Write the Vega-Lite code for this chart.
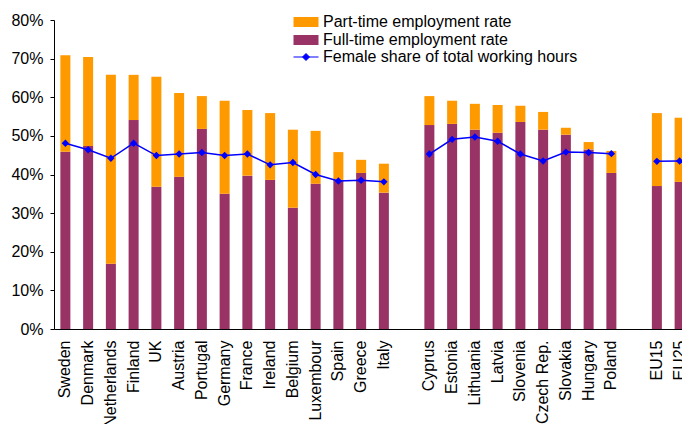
{
  "$schema": "https://vega.github.io/schema/vega-lite/v6.json",
  "width": 628,
  "height": 309,
  "autosize": {"type": "none"},
  "padding": {"left": 54, "top": 20, "right": 0, "bottom": 95},
  "background": "white",
  "config": {
    "view": {"stroke": null},
    "font": "Liberation Sans",
    "axis": {"labelFont": "Liberation Sans", "labelFontSize": 16, "labelColor": "#000000", "domainColor": "#000000", "tickColor": "#000000", "grid": false, "title": null},
    "axisY": {"values": [0, 10, 20, 30, 40, 50, 60, 70, 80], "labelExpr": "datum.value + '%'", "tickSize": 4, "labelPadding": 7, "domainWidth": 1, "labelOverlap": false},
    "legend": {"labelFont": "Liberation Sans", "labelFontSize": 16, "labelColor": "#000000", "padding": 0, "labelLimit": 400}
  },
  "data": {
    "values": [
      {"country": "Sweden", "group": "A", "full": 45.9, "part": 25.0, "share": 48.1},
      {"country": "Denmark", "group": "A", "full": 47.4, "part": 23.0, "share": 46.4},
      {"country": "Netherlands", "group": "A", "full": 16.9, "part": 48.9, "share": 44.2},
      {"country": "Finland", "group": "A", "full": 54.1, "part": 11.7, "share": 48.1},
      {"country": "UK", "group": "A", "full": 36.8, "part": 28.5, "share": 44.9},
      {"country": "Austria", "group": "A", "full": 39.4, "part": 21.7, "share": 45.3},
      {"country": "Portugal", "group": "A", "full": 51.8, "part": 8.5, "share": 45.7},
      {"country": "Germany", "group": "A", "full": 35.0, "part": 24.1, "share": 44.9},
      {"country": "France", "group": "A", "full": 39.7, "part": 17.0, "share": 45.3},
      {"country": "Ireland", "group": "A", "full": 38.6, "part": 17.3, "share": 42.5},
      {"country": "Belgium", "group": "A", "full": 31.4, "part": 20.2, "share": 43.1},
      {"country": "Luxembour", "group": "A", "full": 37.6, "part": 13.7, "share": 40.0},
      {"country": "Spain", "group": "A", "full": 38.6, "part": 7.2, "share": 38.3},
      {"country": "Greece", "group": "A", "full": 40.4, "part": 3.4, "share": 38.5},
      {"country": "Italy", "group": "A", "full": 35.3, "part": 7.5, "share": 38.1},
      {"country": "Cyprus", "group": "B", "full": 52.8, "part": 7.5, "share": 45.3},
      {"country": "Estonia", "group": "B", "full": 53.1, "part": 6.0, "share": 49.1},
      {"country": "Lithuania", "group": "B", "full": 51.6, "part": 6.7, "share": 49.7},
      {"country": "Latvia", "group": "B", "full": 50.8, "part": 7.2, "share": 48.6},
      {"country": "Slovenia", "group": "B", "full": 53.6, "part": 4.2, "share": 45.3},
      {"country": "Czech Rep.", "group": "B", "full": 51.6, "part": 4.6, "share": 43.5},
      {"country": "Slovakia", "group": "B", "full": 50.3, "part": 1.8, "share": 45.8},
      {"country": "Hungary", "group": "B", "full": 46.5, "part": 1.9, "share": 45.7},
      {"country": "Poland", "group": "B", "full": 40.4, "part": 5.7, "share": 45.4},
      {"country": "EU15", "group": "C", "full": 37.0, "part": 18.9, "share": 43.4},
      {"country": "EU25", "group": "C", "full": 38.1, "part": 16.6, "share": 43.5}
    ]
  },
  "encoding": {
    "x": {
      "field": "country",
      "type": "nominal",
      "scale": {
        "domain": ["Sweden", "Denmark", "Netherlands", "Finland", "UK", "Austria", "Portugal", "Germany", "France", "Ireland", "Belgium", "Luxembour", "Spain", "Greece", "Italy", " ", "Cyprus", "Estonia", "Lithuania", "Latvia", "Slovenia", "Czech Rep.", "Slovakia", "Hungary", "Poland", "  ", "EU15", "EU25"],
        "range": [0, 637],
        "paddingInner": 0.56,
        "paddingOuter": 0.28
      },
      "axis": {"labelAngle": 270, "ticks": false, "labelPadding": 11, "domainWidth": 1}
    }
  },
  "layer": [
    {
      "transform": [{"fold": ["full", "part"], "as": ["series", "value"]}],
      "mark": {"type": "bar"},
      "encoding": {
        "y": {
          "field": "value",
          "type": "quantitative",
          "stack": "zero",
          "scale": {"domain": [0, 80], "nice": false}
        },
        "color": {
          "field": "series",
          "type": "nominal",
          "scale": {"domain": ["part", "full"], "range": ["#FF9900", "#993366"]},
          "legend": {
            "orient": "none",
            "legendX": 244,
            "legendY": -6,
            "title": null,
            "symbolType": "M-2.5,-1H2.5V1H-2.5Z",
            "symbolSize": 100,
            "symbolStrokeWidth": 0,
            "labelOffset": 9,
            "rowPadding": 2,
            "labelExpr": "datum.value == 'part' ? 'Part-time employment rate' : 'Full-time employment rate'"
          }
        },
        "order": {"field": "series", "sort": "ascending"}
      }
    },
    {
      "mark": {"type": "line", "strokeWidth": 1.5},
      "encoding": {
        "y": {"field": "share", "type": "quantitative", "scale": {"domain": [0, 80], "nice": false}},
        "detail": {"field": "group"},
        "stroke": {
          "datum": "Female share of total working hours",
          "scale": {"range": ["#0000FF"]},
          "legend": {
            "orient": "none",
            "legendX": 244,
            "legendY": 29,
            "title": null,
            "symbolType": "M-2.5,0H2.5M0,-0.7L0.7,0L0,0.7L-0.7,0Z",
            "symbolSize": 100,
            "symbolFillColor": "#0000FF",
            "symbolStrokeColor": "#0000FF",
            "symbolStrokeWidth": 1,
            "labelOffset": 9
          }
        }
      }
    },
    {
      "mark": {"type": "point", "shape": "diamond", "filled": true, "color": "#0000FF", "size": 55, "opacity": 1},
      "encoding": {
        "y": {"field": "share", "type": "quantitative", "scale": {"domain": [0, 80], "nice": false}}
      }
    }
  ]
}
